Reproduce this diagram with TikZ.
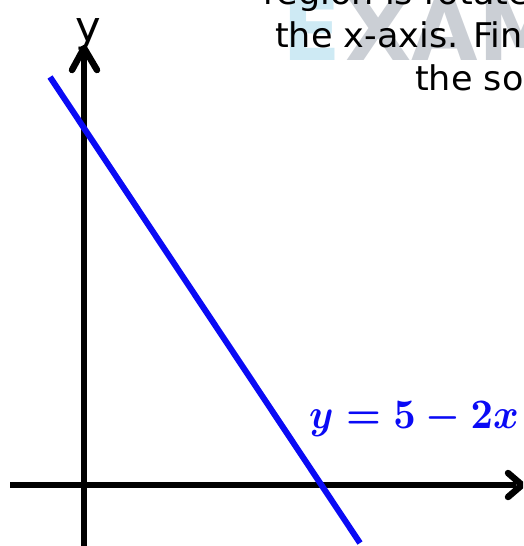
\documentclass[tikz,border=0pt]{standalone}
\usepackage{amsmath}
\usepackage{graphicx}
\usepackage{fontspec}
\newfontfamily\handfont[FakeStretch=1.03]{DejaVu Sans}
\newfontfamily\wmfont{DejaVu Sans}
\definecolor{wmblue}{RGB}{206,234,244}
\definecolor{wmgray}{RGB}{203,207,213}
\definecolor{lineblue}{RGB}{10,10,245}
\begin{document}
\begin{tikzpicture}[x=1pt,y=-1pt,
  axisline/.style={line width=6.5pt, black},
  tipline/.style={line width=6.5pt, black, line cap=round, line join=round},
  graphline/.style={line width=6pt, lineblue},
  wmtext/.style={anchor=base west, inner sep=0pt, font=\wmfont\bfseries\fontsize{86}{86}\selectfont},
  bodytext/.style={anchor=base west, inner sep=0pt, font=\handfont\fontsize{34}{40}\selectfont},
]
\useasboundingbox (0,0) rectangle (523,546);
\clip (0,0) rectangle (523,546);
% watermark
\node[wmtext, text=wmblue] (wmE) at (282,60) {E};
\node[wmtext, text=wmgray] (wmX) at ([xshift=4pt]wmE.base east) {XAM};
% question text
\node[bodytext] (l1) at (263,5) {region is rotate};
\node[bodytext] (l2) at (275,47) {the x-axis. Fin};
\node[bodytext] (l3) at (415,90) {the so};
% axes
\coordinate (yb) at (84,546);
\coordinate (yt) at (84,48);
\coordinate (ye) at (84,54);
\coordinate (yl) at (72,70);
\coordinate (yr) at (97,70);
\coordinate (xl) at (10,485);
\coordinate (xt) at (522,485);
\coordinate (xe) at (516,485);
\coordinate (xu) at (508,473);
\coordinate (xd) at (508,497);
\draw[axisline] (yb) -- (ye);
\draw[tipline] (yl) -- (yt) -- (yr);
\draw[axisline] (xl) -- (xe);
\draw[tipline] (xu) -- (xt) -- (xd);
\node[anchor=base, inner sep=0pt, font=\handfont\fontsize{42}{42}\selectfont] (ylab) at (88,41) {y};
% graph line
\coordinate (ga) at (50,77);
\coordinate (gb) at (360,543);
\draw[graphline] (ga) -- (gb);
\node[anchor=base west, inner sep=0pt, text=lineblue] (glab) at (309,428) {\scalebox{3.9}[4.2]{\boldmath$y=5-2x$}};
\end{tikzpicture}
\end{document}
